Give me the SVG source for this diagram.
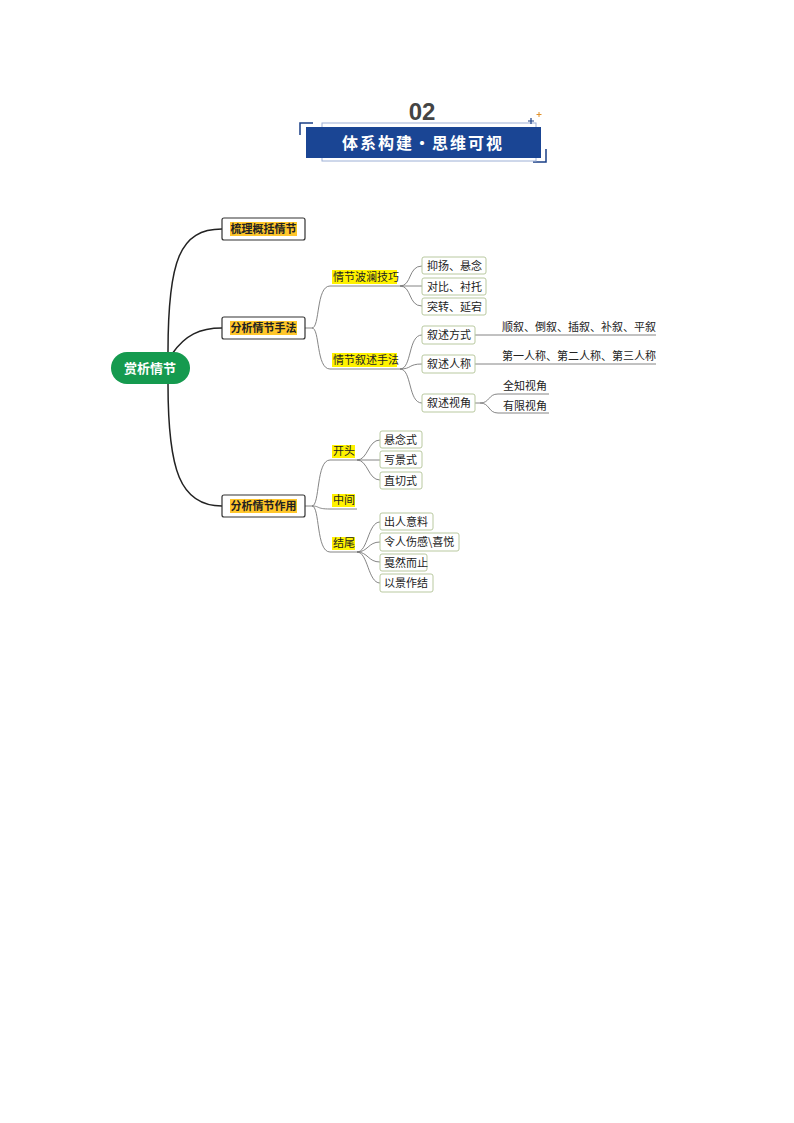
<svg xmlns="http://www.w3.org/2000/svg" width="794" height="1123" viewBox="0 0 794 1123">
<style>
text{font-family:"Noto Sans CJK SC","Liberation Sans",sans-serif;font-size:11px;fill:#222}
.l1{fill:#fff;stroke:#333;stroke-width:1.2}
.hl{fill:#ffc62a}
.yl{fill:#fff200}
.b3{fill:#fff;stroke:#b9c9a0;stroke-width:1}
.c1{fill:none;stroke:#222;stroke-width:1.5}
.c2{fill:none;stroke:#777;stroke-width:0.9}
.b{font-weight:bold}
</style>
<g id="header">
<text x="422" y="120" text-anchor="middle" style="font-size:24px;font-weight:bold;fill:#444;font-family:'Liberation Sans',sans-serif">02</text>
<path d="M300 135V123H313M546 149V162H533" fill="none" stroke="#1a3f86" stroke-width="1.5"/>
<rect x="322" y="123" width="214" height="38" fill="none" stroke="#9db0d6" stroke-width="1"/>
<rect x="306" y="127" width="235" height="31" fill="#1a4594"/>
<text x="423" y="149" text-anchor="middle" style="font-size:16px;font-weight:bold;fill:#fff;letter-spacing:2px">体系构建・思维可视</text>
<path d="M531 118v6M528 121h6" stroke="#1a3f86" stroke-width="1.2"/>
<path d="M539 112v5M536.5 114.5h5" stroke="#e0902a" stroke-width="1"/>
</g>
<g id="connectors">
<path class="c1" d="M168 352C168 260 180 229 222 229"/>
<path class="c1" d="M172 354C185 335 200 328 222 328"/>
<path class="c1" d="M168 384C168 470 180 506 222 506"/>
<path class="c2" d="M305 328H312C320 328 316 286 330 286H400M312 328C320 328 316 369 330 369H400"/>
<path class="c2" d="M400 286C412 286 408 266 422 266M400 286H422M400 286C412 286 408 306 422 306"/>
<path class="c2" d="M400 369C412 369 408 335 422 335M400 369C412 369 408 364 422 364M400 369C412 369 408 403 422 403"/>
<path class="c2" d="M475 335H656M475 364H656"/>
<path class="c2" d="M475 403H480C490 403 488 394 498 394H549M480 403C490 403 488 413 498 413H549"/>
<path class="c2" d="M305 506H312C320 506 316 460 330 460H357M312 506C320 506 316 509 330 509H357M312 506C320 506 316 552 330 552H357"/>
<path class="c2" d="M357 460C368 460 368 440 380 440M357 460H380M357 460C368 460 368 480 380 480"/>
<path class="c2" d="M357 552C368 552 368 522 380 522M357 552C368 552 368 542 380 542M357 552C368 552 368 562 380 562M357 552C368 552 368 583 380 583"/>
</g>
<g id="root"><rect x="111" y="352" width="79" height="32" rx="16" fill="#159a4f"/><text x="150" y="372.5" text-anchor="middle" class="b" style="fill:#fff;font-size:13px">赏析情节</text></g>
<g id="n1"><rect class="l1" x="222" y="218" width="83" height="22" rx="2"/><rect class="hl" x="230" y="222" width="67" height="14"/><text x="263.5" y="233" text-anchor="middle" class="b">梳理概括情节</text></g>
<g id="n2"><rect class="l1" x="222" y="317" width="83" height="22" rx="2"/><rect class="hl" x="230" y="321" width="67" height="14"/><text x="263.5" y="332" text-anchor="middle" class="b">分析情节手法</text></g>
<g id="n3"><rect class="l1" x="222" y="495" width="83" height="22" rx="2"/><rect class="hl" x="230" y="499" width="67" height="14"/><text x="263.5" y="510" text-anchor="middle" class="b">分析情节作用</text></g>
<g id="n2a"><rect class="yl" x="332" y="270" width="65" height="14"/><text x="333" y="281">情节波澜技巧</text></g>
<g id="n2b"><rect class="yl" x="332" y="353" width="65" height="14"/><text x="333" y="364">情节叙述手法</text></g>
<g id="n2a1"><rect class="b3" x="422" y="257" width="64" height="17" rx="2"/><text x="427" y="269.5">抑扬、悬念</text></g>
<g id="n2a2"><rect class="b3" x="422" y="278" width="64" height="17" rx="2"/><text x="427" y="290.5">对比、衬托</text></g>
<g id="n2a3"><rect class="b3" x="422" y="298" width="64" height="17" rx="2"/><text x="427" y="310.5">突转、延宕</text></g>
<g id="n2b1"><rect class="b3" x="422" y="326" width="53" height="18" rx="2"/><text x="427" y="339">叙述方式</text></g>
<g id="n2b2"><rect class="b3" x="422" y="355" width="53" height="18" rx="2"/><text x="427" y="368">叙述人称</text></g>
<g id="n2b3"><rect class="b3" x="422" y="394" width="53" height="18" rx="2"/><text x="427" y="407">叙述视角</text></g>
<g id="t1"><text x="502" y="331">顺叙、倒叙、插叙、补叙、平叙</text></g>
<g id="t2"><text x="502" y="360">第一人称、第二人称、第三人称</text></g>
<g id="t3"><text x="503" y="390">全知视角</text></g>
<g id="t4"><text x="503" y="410">有限视角</text></g>
<g id="n3a"><rect class="yl" x="332" y="445" width="23" height="13"/><text x="333" y="455">开头</text></g>
<g id="n3b"><rect class="yl" x="332" y="494" width="23" height="13"/><text x="333" y="504">中间</text></g>
<g id="n3c"><rect class="yl" x="332" y="537" width="23" height="13"/><text x="333" y="547">结尾</text></g>
<g id="n3a1"><rect class="b3" x="380" y="431" width="42" height="17" rx="2"/><text x="384" y="443.5">悬念式</text></g>
<g id="n3a2"><rect class="b3" x="380" y="451" width="42" height="17" rx="2"/><text x="384" y="463.5">写景式</text></g>
<g id="n3a3"><rect class="b3" x="380" y="472" width="42" height="17" rx="2"/><text x="384" y="484.5">直切式</text></g>
<g id="n3c1"><rect class="b3" x="380" y="513" width="53" height="17" rx="2"/><text x="384" y="525.5">出人意料</text></g>
<g id="n3c2"><rect class="b3" x="380" y="533" width="79" height="18" rx="2"/><text x="384" y="546">令人伤感\喜悦</text></g>
<g id="n3c3"><rect class="b3" x="380" y="554" width="47" height="17" rx="2"/><text x="384" y="566.5">戛然而止</text></g>
<g id="n3c4"><rect class="b3" x="380" y="574" width="53" height="18" rx="2"/><text x="384" y="587">以景作结</text></g>
</svg>
